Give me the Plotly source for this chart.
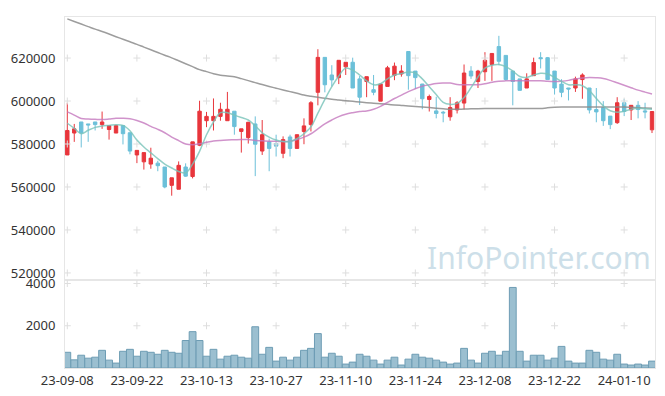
import plotly.graph_objects as go
from plotly.subplots import make_subplots

dates = [
    "23-09-08", "23-09-11", "23-09-12", "23-09-13", "23-09-14", "23-09-15",
    "23-09-18", "23-09-19", "23-09-20", "23-09-21", "23-09-22",
    "23-09-25", "23-09-26", "23-09-27",
    "23-10-04", "23-10-05", "23-10-06",
    "23-10-10", "23-10-11", "23-10-12", "23-10-13",
    "23-10-16", "23-10-17", "23-10-18", "23-10-19", "23-10-20",
    "23-10-23", "23-10-24", "23-10-25", "23-10-26", "23-10-27",
    "23-10-30", "23-10-31", "23-11-01", "23-11-02", "23-11-03",
    "23-11-06", "23-11-07", "23-11-08", "23-11-09", "23-11-10",
    "23-11-13", "23-11-14", "23-11-15", "23-11-16", "23-11-17",
    "23-11-20", "23-11-21", "23-11-22", "23-11-23", "23-11-24",
    "23-11-27", "23-11-28", "23-11-29", "23-11-30", "23-12-01",
    "23-12-04", "23-12-05", "23-12-06", "23-12-07", "23-12-08",
    "23-12-11", "23-12-12", "23-12-13", "23-12-14", "23-12-15",
    "23-12-18", "23-12-19", "23-12-20", "23-12-21", "23-12-22",
    "23-12-26", "23-12-27", "23-12-28",
    "24-01-02", "24-01-03", "24-01-04", "24-01-05",
    "24-01-08", "24-01-09", "24-01-10", "24-01-11", "24-01-12",
    "24-01-15", "24-01-16",
]

opens = [
    574900, 585100, 590250, 589340, 590250, 589020, 586740, 585100, 588560, 585240,
    574900, 571700, 570660, 571100, 569300, 560770, 558950, 569300, 564870, 579450,
    590840, 590840, 592850, 590840, 595260, 585830, 582960, 589340, 576720, 581000,
    580230, 575670, 583280, 577950, 585830, 589020, 604050, 620320, 612120, 610890,
    615900, 618040, 610300, 609070, 605280, 599950, 606790, 611980, 612570, 623050,
    613940, 607900, 600730, 595400, 594800, 592660, 595850, 599040, 613940, 609070,
    613620, 617000, 625330, 621230, 613940, 610300, 606060, 611800, 620180, 620180,
    613940, 607880, 606060, 606060, 609980, 606060, 596040, 596950, 592980, 589930,
    599200, 595850, 598000, 595400, 586600,
]
highs = [
    599200, 589340, 590250, 589340, 590250, 595100, 588560, 589000, 588560, 585240,
    577040, 576000, 578270, 572200, 569300, 564280, 571900, 571000, 581000, 600130,
    594940, 601200, 599200, 604240, 595260, 587060, 590300, 592850, 591160, 582500,
    584330, 583550, 584330, 584330, 591940, 599950, 624100, 620320, 616670, 618950,
    618040, 620180, 611660, 611340, 612120, 608000, 616350, 617900, 616670, 623050,
    613940, 608000, 602990, 601960, 595400, 601780, 599950, 617000, 616220, 614500,
    622730, 622200, 630340, 621230, 614000, 610300, 612900, 620180, 622730, 620500,
    613940, 610160, 606100, 611340, 612900, 606100, 606060, 599950, 592980, 601780,
    601050, 598000, 599950, 599200, 595120,
]
lows = [
    574900, 581000, 578400, 581000, 586300, 587060, 582050, 585100, 579800, 575200,
    571100, 568100, 568500, 567330, 559400, 555950, 558950, 564740, 564000, 579000,
    587840, 586300, 590840, 590840, 584330, 576000, 580200, 565050, 574900, 567330,
    574170, 573390, 574170, 577950, 579900, 585830, 598000, 604050, 606790, 607880,
    612120, 606060, 598130, 601780, 602690, 599950, 606790, 609700, 611340, 605280,
    605590, 596170, 595120, 591940, 590110, 590840, 594210, 596040, 610300, 606060,
    609380, 609380, 616670, 609500, 598000, 604960, 606060, 611800, 615170, 609980,
    603010, 601780, 600270, 604240, 601050, 594210, 590110, 588430, 586920, 589340,
    592980, 591160, 591940, 591940, 585100,
]
closes = [
    586300, 587060, 585100, 588900, 589020, 590250, 588560, 588560, 584800, 576720,
    577040, 576000, 573400, 569900, 560000, 564280, 570070, 565050, 581000, 595260,
    592850, 592850, 596170, 596170, 588110, 587060, 590110, 579900, 584330, 577950,
    579000, 582050, 577950, 584330, 588430, 599200, 620320, 607560, 609840, 618950,
    618040, 606060, 601780, 611340, 604050, 607880, 615440, 616220, 613940, 611800,
    610890, 601050, 602100, 594210, 594490, 596950, 599200, 613030, 611660, 613940,
    618950, 622140, 618500, 609980, 609070, 604960, 610300, 617900, 619730, 609980,
    606060, 604050, 605600, 610300, 612120, 595850, 594940, 590840, 589020, 599200,
    595120, 598000, 596040, 594940, 595120,
]
volume = [
    744, 386, 605, 465, 512, 837, 372, 233, 791, 884,
    558, 791, 744, 651, 837, 744, 698, 1302, 1721, 1302,
    558, 884, 419, 558, 605, 512, 465, 1953, 651, 977,
    326, 512, 372, 512, 837, 930, 1628, 512, 698, 558,
    186, 279, 651, 558, 372, 186, 372, 512, 140, 419,
    651, 512, 465, 372, 279, 186, 233, 930, 372, 233,
    698, 791, 605, 791, 3814, 791, 326, 605, 605, 372,
    465, 1023, 326, 233, 233, 837, 744, 419, 372, 651,
    186, 140, 186, 140, 326,
]
ma5 = [
    589660, 587290, 584780, 586380, 587740, 588430, 588650, 588970, 588650, 586150,
    581820, 578630, 575900, 573160, 570660, 568840, 567240, 566560, 570660, 576580,
    584330, 590250, 594580, 594580, 593440, 592300, 591160, 588430, 585240, 583190,
    581820, 581140, 581140, 582500, 584780, 587970, 594350, 600730, 606650, 611660,
    615310, 614400, 612120, 609380, 607560, 608020, 610300, 612120, 612800, 613490,
    613030, 610300, 606650, 603010, 599360, 598450, 598910, 601640, 606200, 611210,
    615310, 616670, 616990, 615990, 613940, 611430, 610980, 612120, 612890, 612570,
    610980, 609160, 607560, 607560, 607110, 604830, 601180, 597770, 595490, 594800,
    595260, 596170, 596630, 596400, 596170,
]
ma20 = [
    594940, 593440, 591840, 591620, 591480, 591390, 591620, 591940, 591940, 591710,
    590930, 589790, 588200, 586830, 585240, 583190, 581590, 580000, 579630, 580090,
    580770, 581370, 581680, 581870, 581960, 582050, 582050, 581590, 581460, 581320,
    581230, 581140, 581230, 582050, 583190, 584780, 587060, 589340, 591160, 592760,
    593890, 594580, 595120, 595400, 596170, 597540, 599360, 601180, 602780, 604370,
    605740, 606880, 607560, 608150, 608340, 608340, 607700, 607560, 607560, 607560,
    608020, 608700, 609250, 609380, 609380, 609380, 609380, 609380, 609380, 609160,
    609070, 609250, 609610, 610300, 610750, 610980, 610840, 610520, 609610, 608470,
    607330, 606200, 605060, 604150, 603230,
]
ma_long = [
    638220, 637040, 635810, 634630, 633440, 632350, 631160, 629930, 628750, 627560,
    626380, 625100, 623830, 622600, 621320, 620090, 618720, 617360, 615990, 614620,
    613670, 612710, 612030, 611660, 611340, 610430, 609480, 608560, 607650, 606790,
    605970, 605150, 604370, 603600, 602780, 602230, 601730, 601280, 600820, 600500,
    600180, 599860, 599540, 599230, 598950, 598680, 598450, 598180, 597950, 597720,
    597450, 597220, 596950, 596670, 596400, 596170, 596170, 596260, 596350, 596450,
    596490, 596490, 596490, 596490, 596490, 596490, 596490, 596490, 596490, 596860,
    597080, 597220, 597220, 597220, 597220, 597220, 597220, 597220, 597220, 597220,
    597220, 597080, 596900, 596720, 596630,
]
x_ticks = ["23-09-08", "23-09-22", "23-10-13", "23-10-27", "23-11-10",
           "23-11-24", "23-12-08", "23-12-22", "24-01-10"]
price_ticks = [520000, 540000, 560000, 580000, 600000, 620000]
vol_ticks = [2000, 4000]

UP = "#e8363c"
DOWN = "#6cc0d9"
GRID = "#dedede"
FRAME = "#e6e6e6"
FONT = dict(family="Noto Sans", size=13, color="#333333")

fig = make_subplots(rows=2, cols=1, shared_xaxes=True, vertical_spacing=0,
                    row_heights=[0.75, 0.25])

# grid crosses at tick intersections
gx1 = [d for d in x_ticks for _ in price_ticks]
gy1 = [v for _ in x_ticks for v in price_ticks]
fig.add_trace(go.Scatter(x=gx1, y=gy1, mode="markers", hoverinfo="skip",
                         marker=dict(symbol="cross-thin", size=5,
                                     line=dict(color=GRID, width=1))),
              row=1, col=1)
gx2 = [d for d in x_ticks for _ in vol_ticks]
gy2 = [v for _ in x_ticks for v in vol_ticks]
fig.add_trace(go.Scatter(x=gx2, y=gy2, mode="markers", hoverinfo="skip",
                         marker=dict(symbol="cross-thin", size=5,
                                     line=dict(color=GRID, width=1))),
              row=2, col=1)

fig.add_trace(go.Candlestick(
    x=dates, open=opens, high=highs, low=lows, close=closes,
    increasing=dict(line=dict(color=UP, width=1), fillcolor=UP),
    decreasing=dict(line=dict(color=DOWN, width=1), fillcolor=DOWN),
    whiskerwidth=0, hoverinfo="skip"), row=1, col=1)

fig.add_trace(go.Scatter(x=dates, y=ma_long, mode="lines", line=dict(color="rgba(140,140,140,0.85)", width=1.5, shape="spline"), hoverinfo="skip"), row=1, col=1)
fig.add_trace(go.Scatter(x=dates, y=ma20, mode="lines", line=dict(color="rgba(196,120,190,0.8)", width=1.5, shape="spline"), hoverinfo="skip"), row=1, col=1)
fig.add_trace(go.Scatter(x=dates, y=ma5, mode="lines", line=dict(color="rgba(120,195,185,0.8)", width=1.5, shape="spline"), hoverinfo="skip"), row=1, col=1)

fig.add_trace(go.Bar(x=dates, y=volume, marker=dict(color="#9bbfd0", line=dict(color="#6e9db4", width=1)),
                     hoverinfo="skip"), row=2, col=1)

xr = [-0.33, 84.43]
common_x = dict(type="category", categoryorder="array", categoryarray=dates,
                range=xr, showgrid=False, zeroline=False, showline=True,
                linecolor=FRAME, linewidth=1, mirror=True,
                tickmode="array", tickvals=x_ticks, ticktext=x_ticks,
                tickfont=FONT, ticks="", rangeslider=dict(visible=False))
fig.update_xaxes(**common_x)
fig.update_xaxes(showticklabels=False, row=1, col=1)
fig.update_yaxes(range=[516600, 639100], tickmode="array", tickvals=price_ticks,
                 tickformat="d", tickfont=FONT, showgrid=False, zeroline=False,
                 showline=True, linecolor=FRAME, linewidth=1, mirror=True,
                 ticks="", ticklabelstandoff=6, row=1, col=1)
fig.update_yaxes(range=[0, 4155], tickmode="array", tickvals=vol_ticks,
                 tickformat="d", tickfont=FONT, showgrid=False, zeroline=False,
                 showline=True, linecolor=FRAME, linewidth=1, mirror=True,
                 ticks="", ticklabelstandoff=6, row=2, col=1)

fig.add_annotation(text="InfoPointer.com", xref="paper", yref="paper",
                   x=0.804, y=0.314, xanchor="center", yanchor="middle",
                   showarrow=False,
                   font=dict(family="Noto Sans", size=30, color="#cddfe9"))

# page body has an 8px default margin; compensate so the plot lands in place
fig.update_layout(width=657, height=388, showlegend=False,
                  margin=dict(l=54, r=10, t=3, b=28),
                  paper_bgcolor="white", plot_bgcolor="white",
                  bargap=0.02, boxgap=0.3)

fig.write_html("out.html")
